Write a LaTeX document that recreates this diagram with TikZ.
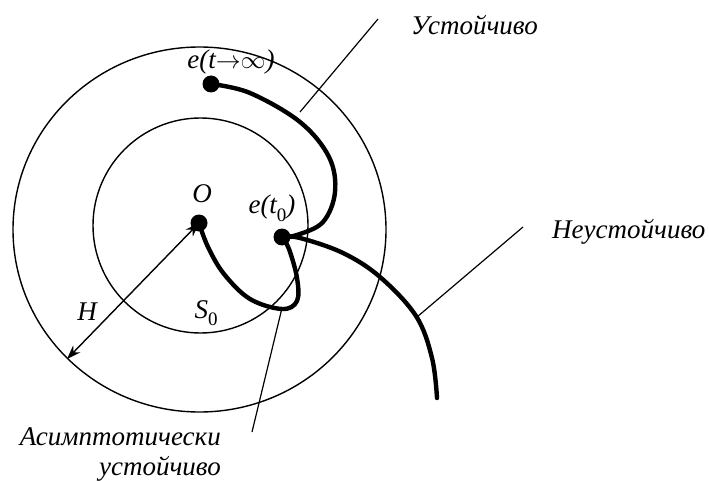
\documentclass[tikz,border=0pt]{standalone}
\usepackage{fontspec}
\setmainfont{Liberation Serif}
\usetikzlibrary{arrows.meta}
\newcommand{\lowsub}[1]{\raisebox{-0.28em}{\fontsize{19}{19}\selectfont\upshape #1}}
\begin{document}
\begin{tikzpicture}[x=1pt,y=-1pt,
  ring/.style={line width=1.4pt},
  traj/.style={line width=4.4pt, line cap=round},
  leader/.style={line width=1.2pt},
  dotnode/.style={circle, fill=black, inner sep=0pt, minimum size=17pt},
  lbl/.style={font=\fontsize{27}{31}\selectfont\itshape, inner sep=0pt}]
\useasboundingbox (0,0) rectangle (709,481);
% circles
\draw[ring] (199.5,229.5) ellipse [x radius=186.5, y radius=182.5];
\draw[ring] (200.5,225.5) circle [radius=107.5];
% points
\node[dotnode] (O) at (199,223) {};
\node[dotnode] (et0) at (282,237) {};
\node[dotnode] (einf) at (211,84) {};
\coordinate (hend) at (67,359);
\coordinate (uend) at (437,398);
% trajectories
\draw[traj] plot[smooth, tension=0.6] coordinates {(einf) (250,93) (300,122) (329,157) (335,192) (323,222) (297,235) (et0)};
\draw[traj] plot[smooth, tension=0.6] coordinates {(et0) (300,238) (343,253) (380,277) (416,316) (432,358) (uend)};
\draw[traj] plot[smooth, tension=0.6] coordinates {(et0) (289,249) (297,278) (297,301) (282,309) (250,299) (224,274) (208,247) (O)};
% radius arrow
\draw[line width=1.4pt, {Stealth[length=14pt,width=10pt]}-{Stealth[length=14pt,width=10pt]}] (O.center) -- (hend);
% leader lines
\coordinate (l1a) at (378,19); \coordinate (l1b) at (300,112);
\coordinate (l2a) at (523,227); \coordinate (l2b) at (417,317);
\coordinate (l3a) at (252,432); \coordinate (l3b) at (282,308);
\draw[leader] (l1a) -- (l1b);
\draw[leader] (l2a) -- (l2b);
\draw[leader] (l3a) -- (l3b);
% labels
\node[lbl, anchor=west] (t1) at (411,25) {Устойчиво};
\node[lbl, anchor=west] (t2) at (552,232) {Неустойчиво};
\node[lbl, anchor=east, align=right] (t3) at (221,454) {Асимптотически\\[-1pt]устойчиво};
\node[lbl] (tO) at (202,194) {O};
\node[lbl] (te0) at (272,208) {e(t\lowsub{0})};
\node[lbl] (teinf) at (231,62) {e(t${\to}{\infty}$)};
\node[lbl] (tH) at (87,312) {H};
\node[lbl] (tS) at (206,313) {S\lowsub{0}};
\end{tikzpicture}
\end{document}
